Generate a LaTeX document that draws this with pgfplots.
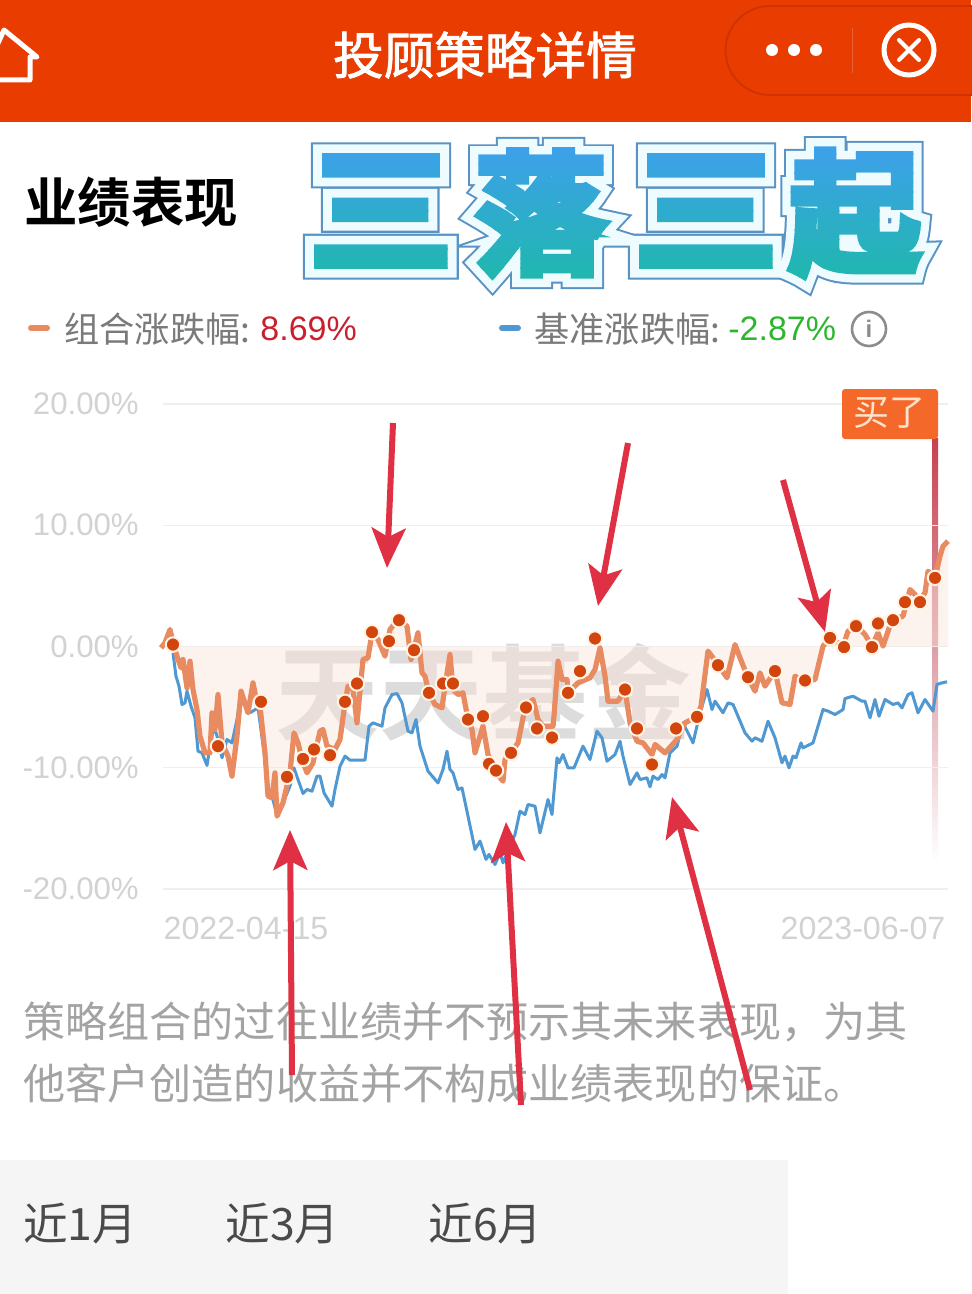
\documentclass[border=0pt]{standalone}
\usepackage{fontspec}
\usepackage{pgfplots}
\usepackage{pgfplotstable}
\pgfplotsset{compat=1.18}
\usetikzlibrary{arrows.meta}
\setmainfont{Liberation Sans}
\newfontfamily\cjk{Noto Sans CJK SC}
\newfontfamily\cjkm[FakeBold=1.6]{Noto Sans CJK SC}
\newfontfamily\cjkb{Noto Sans CJK SC Bold}
\newfontfamily\cjka[FakeBold=21]{Noto Sans CJK SC Bold}
\newfontfamily\cjkc[FakeBold=18]{Noto Sans CJK SC Bold}
\newfontfamily\cjkd[FakeBold=5.5]{Noto Sans CJK SC Bold}
\definecolor{hdr}{HTML}{E93C00}
\definecolor{orangeL}{HTML}{E98B60}
\definecolor{blueL}{HTML}{4F98D2}
\definecolor{dotc}{HTML}{D2450C}
\definecolor{arrowc}{HTML}{E03043}
\definecolor{gradT}{HTML}{3F9FEE}
\definecolor{gradB}{HTML}{1FB8AC}
\definecolor{capb}{HTML}{CF3300}
\definecolor{capl}{HTML}{E8603A}
\definecolor{outl}{HTML}{5A92C4}
\definecolor{halo}{HTML}{EEFBFF}
\definecolor{leg}{HTML}{7A7A7A}
\definecolor{legred}{HTML}{C8202E}
\definecolor{leggreen}{HTML}{2DB52D}
\definecolor{info}{HTML}{8C8C8C}
\definecolor{wm}{HTML}{D4D4D4}
\definecolor{foot}{HTML}{A3A3A3}
\definecolor{tabbg}{HTML}{F5F5F5}
\definecolor{tabt}{HTML}{4A4A4A}
\definecolor{gridc}{HTML}{EFEFEF}
\definecolor{tickc}{HTML}{D2D2D2}
\definecolor{pink}{HTML}{FBE3D8}
\definecolor{dotring}{HTML}{FFF3E6}
\definecolor{buyl}{HTML}{C9404F}
\definecolor{buym}{HTML}{DDA0A8}
\definecolor{buybg}{HTML}{F4682A}
\definecolor{buyt}{HTML}{FCE3CE}

\pgfplotstableread{
x y
161 -0.11
165 0.30
170 1.40
173 0.30
177 -0.80
181 -1.76
183 -1.07
187 -3.41
190 -1.21
193 -3.55
197 -5.20
200 -7.39
205 -8.77
210 -8.77
212 -5.47
215 -6.85
218 -3.96
222 -7.95
228 -9.04
232 -10.69
237 -7.39
241 -3.68
248 -5.47
253 -3.00
257 -4.65
260 -4.92
265 -8.77
268 -12.34
272 -12.48
275 -10.42
277 -13.99
283 -12.89
290 -10.42
294 -7.12
298 -7.95
302 -9.32
307 -10.42
313 -9.59
320 -6.98
323 -6.85
327 -8.22
335 -8.49
340 -7.67
345 -4.65
348 -3.27
353 -3.55
357 -6.30
363 -1.07
368 -0.93
372 1.13
378 0.58
385 -0.80
390 1.40
398 2.23
407 1.68
411 -1.07
418 1.13
422 -2.17
425 -2.45
429 -3.82
435 -4.78
442 -5.06
445 -3.27
450 -0.66
453 -3.55
458 -3.96
463 -3.82
468 -6.02
472 -6.85
475 -8.77
483 -6.57
488 -8.91
495 -10.28
503 -11.11
505 -9.32
511 -8.77
518 -7.95
525 -5.06
533 -4.37
538 -6.02
543 -6.57
553 -6.57
554 -5.75
558 -1.21
562 -2.72
567 -2.72
568 -3.82
578 -3.00
590 -2.58
595 -1.90
600 -0.11
605 -2.45
608 -4.51
618 -4.51
625 -3.55
630 -6.30
637 -7.81
643 -7.95
652 -8.91
655 -8.08
665 -8.77
677 -7.67
685 -6.30
697 -5.75
701 -4.92
708 -0.38
718 -1.48
727 -2.58
735 0.16
740 -0.93
748 -2.58
755 -3.68
760 -2.17
765 -3.27
775 -2.03
782 -4.65
790 -4.78
795 -2.45
805 -2.86
815 -2.72
823 0.03
830 0.71
843 0.03
848 1.26
857 1.68
865 0.99
872 0.03
878 1.13
883 0.03
892 2.23
903 2.50
910 4.70
920 3.88
925 4.43
928 6.21
935 5.66
940 7.45
943 8.27
948 8.69
}\orangedata

\pgfplotstableread{
x y
173 -0.52
176 -2.45
179 -3.27
182 -4.78
185 -4.65
187 -3.68
191 -4.92
195 -5.88
198 -8.63
202 -8.77
207 -9.81
210 -8.22
214 -6.57
218 -7.67
222 -9.18
227 -7.67
232 -7.95
237 -6.02
241 -3.68
250 -5.47
258 -5.06
265 -9.32
268 -12.34
273 -12.62
277 -13.99
283 -12.89
290 -11.52
294 -10.01
298 -10.97
303 -12.12
307 -11.79
312 -11.93
317 -10.69
320 -10.69
324 -12.07
332 -13.17
335 -11.79
340 -9.87
345 -9.04
350 -9.37
365 -9.37
369 -6.57
373 -6.30
382 -6.57
385 -5.06
392 -3.96
397 -3.88
402 -4.65
408 -6.98
412 -7.12
416 -6.02
420 -8.22
428 -10.28
438 -11.25
443 -10.14
447 -8.63
450 -10.14
453 -10.42
458 -11.79
462 -11.66
468 -13.99
475 -16.74
480 -16.05
486 -17.56
489 -17.15
495 -17.98
500 -17.00
503 -17.84
515 -15.50
520 -13.58
525 -13.86
528 -13.03
535 -13.17
540 -15.37
548 -12.62
552 -13.86
557 -9.18
559 -9.59
563 -8.91
568 -10.01
574 -10.01
583 -8.22
590 -9.32
597 -6.98
602 -7.53
607 -9.46
615 -8.91
620 -7.81
623 -9.05
630 -11.38
637 -10.42
640 -10.97
647 -10.83
650 -11.57
653 -10.69
658 -10.97
662 -10.56
665 -10.83
670 -8.77
677 -8.22
683 -6.30
693 -7.95
700 -5.50
707 -3.55
712 -5.20
715 -4.51
723 -5.47
728 -4.65
733 -4.78
738 -5.75
745 -7.12
752 -7.81
755 -7.53
762 -7.81
768 -6.16
775 -7.53
782 -9.59
785 -9.04
789 -10.01
793 -9.04
796 -9.18
801 -7.95
803 -8.36
813 -7.95
823 -5.20
828 -5.33
835 -5.61
843 -5.20
845 -4.29
853 -4.10
862 -4.51
865 -4.51
870 -5.88
875 -4.37
879 -5.75
885 -4.37
893 -4.78
898 -4.65
902 -5.06
908 -3.96
912 -3.82
918 -5.47
925 -4.37
933 -5.33
937 -3.13
942 -3.00
947 -2.91
}\bluedata

\pgfplotstableread{
x y
173 0.16
218 -8.22
261 -4.56
287 -10.75
303 -9.27
314 -8.49
330 -8.96
345 -4.56
357 -3.05
372 1.18
389 0.44
399 2.17
414 -0.30
429 -3.82
443 -3.05
453 -3.05
468 -6.02
483 -5.75
489 -9.68
496 -10.23
511 -8.77
526 -5.03
537 -6.76
552 -7.51
568 -3.82
580 -2.03
595 0.66
625 -3.55
637 -6.76
652 -9.73
676 -6.76
697 -5.80
718 -1.54
748 -2.53
775 -2.03
805 -2.80
830 0.71
844 -0.05
856 1.68
872 -0.05
878 1.90
893 2.17
905 3.66
920 3.66
935 5.66
}\dotdata

\newcommand{\bigchars}[1]{%
  \node[text=#1,inner sep=0,yscale=0.96] at (381,211) {三};
  \node[text=#1,inner sep=0,scale=0.92] at (541,213) {落};
  \node[text=#1,inner sep=0,yscale=0.96] at (706,211) {三};
  \node[text=#1,inner sep=0,scale=0.92] at (855,213) {起};
}

\begin{document}
\begin{tikzpicture}
\begin{scope}[x=0.5pt,y=-0.5pt]
\useasboundingbox (0,0) rectangle (971,1294);
\fill[white] (0,0) rectangle (971,1294);
% header
\fill[hdr] (0,0) rectangle (971,122);
\draw[white,line width=2.5pt,line join=round,line cap=round] (-6,52) -- (4,30) -- (37,57) -- (30,57) -- (30,80) -- (0,80);
\node[white,inner sep=0,font=\cjkm\fontsize{25.3pt}{25.3pt}\selectfont] at (485,55) {投顾策略详情};
\draw[fill=hdr,draw=capb,line width=0.9pt] (1040,6) -- (770,6) arc[start angle=270,end angle=90,radius=44.5] -- (1040,95) -- cycle;
\foreach \xx in {772,794,816} \fill[white] (\xx,50) circle (3pt);
\draw[capl] (852,28) -- (852,73);
\draw[white,line width=2.5pt] (909,50) circle (12.5pt);
\draw[white,line width=2pt,line cap=round] (899,40) -- (919,60) (919,40) -- (899,60);
% heading
\node[anchor=west,inner sep=0,font=\cjkb\fontsize{26.7pt}{26.7pt}\selectfont] at (24,202) {业绩表现};
% big title
\begin{scope}[font=\cjka\fontsize{72pt}{72pt}\selectfont]\bigchars{outl}\end{scope}
\begin{scope}[font=\cjkc\fontsize{72pt}{72pt}\selectfont]\bigchars{halo}\end{scope}
\begin{scope}[font=\cjkd\fontsize{72pt}{72pt}\selectfont]
\foreach \i in {0,...,15} {
  \pgfmathsetmacro{\p}{100-\i*100/15}
  \colorlet{stripc}{gradT!\p!gradB}
  \begin{scope}
    \clip (295,135+\i*9.5) rectangle (950,135+\i*9.5+10);
    \bigchars{stripc}
  \end{scope}
}
\end{scope}
% legend
\draw[orangeL,line width=3pt,line cap=round] (31,328) -- (47,328);
\node[anchor=west,inner sep=0,text=leg,font=\cjk\fontsize{17.6pt}{18pt}\selectfont] at (64,329) {组合涨跌幅:};
\node[anchor=west,inner sep=0,text=legred,font=\fontsize{17pt}{18pt}\selectfont] at (260,329) {8.69\%};
\draw[blueL,line width=3pt,line cap=round] (502,328) -- (518,328);
\node[anchor=west,inner sep=0,text=leg,font=\cjk\fontsize{17.6pt}{18pt}\selectfont] at (534,329) {基准涨跌幅:};
\node[anchor=west,inner sep=0,text=leggreen,font=\fontsize{17pt}{18pt}\selectfont] at (728,329) {-2.87\%};
\draw[info,line width=1.3pt] (869,329) circle (8.5pt);
\node[text=info,inner sep=0,font=\bfseries\fontsize{12pt}{12pt}\selectfont] at (869,329) {i};
% watermark
\node[text=wm,opacity=0.8,inner sep=0,font=\cjkb\fontsize{52pt}{52pt}\selectfont] at (483,692) {天天基金};
% footer text
\node[anchor=west,inner sep=0,text=foot,font=\cjk\fontsize{21.05pt}{21pt}\selectfont] at (23,1022) {策略组合的过往业绩并不预示其未来表现，为其};
\node[anchor=west,inner sep=0,text=foot,font=\cjk\fontsize{21.05pt}{21pt}\selectfont] at (23,1083) {他客户创造的收益并不构成业绩表现的保证。};
% tabs
\fill[tabbg] (0,1160) rectangle (788,1294);
\foreach \xx/\t in {23/近1月,225/近3月,428/近6月}
  \node[anchor=west,inner sep=0,text=tabt,font=\cjk\fontsize{22.3pt}{22pt}\selectfont] at (\xx,1224) {\t};
% buy line
\shade[top color=buyl,bottom color=white,middle color=buym] (932.5,438) rectangle (938,862);
\end{scope}

\begin{axis}[
  at={(81.5pt,-444.5pt)},anchor=south west,
  scale only axis,width=392.5pt,height=242.5pt,
  xmin=163,xmax=948,ymin=-20,ymax=20,
  clip=false,
  axis line style={draw=none},
  major tick length=0pt,
  ymajorgrids,grid style={gridc,line width=0.6pt},
  ytick={-20,-10,0,10,20},
  yticklabels={-20.00\%,-10.00\%,0.00\%,10.00\%,20.00\%},
  xtick={246,863},
  xticklabels={2022-04-15,2023-06-07},
  tick label style={text=tickc},
  yticklabel style={xshift=-8.6pt,font=\fontsize{15.6pt}{16pt}\selectfont},
  xticklabel style={anchor=center,yshift=-19.5pt,font=\fontsize{16.1pt}{16pt}\selectfont},
]
\addplot[draw=none,fill=pink,fill opacity=0.42] table {\orangedata} \closedcycle;
\addplot[blueL,line width=1.5pt,line join=round] table {\bluedata};
\addplot[orangeL,line width=2.6pt,line join=round] table {\orangedata};
\addplot[only marks,mark=*,mark size=3.6pt,mark options={fill=dotc,draw=dotring,line width=1pt}] table {\dotdata};
\end{axis}

\begin{scope}[x=0.5pt,y=-0.5pt]
% buy tag
\fill[buybg,rounded corners=1.5pt] (842,389) rectangle (938,439);
\node[text=buyt,inner sep=0,font=\cjk\fontsize{18pt}{18pt}\selectfont] at (889,413) {买了};
% arrows
\tikzset{ann/.style={arrowc,line width=3pt,-{Stealth[length=20pt,width=17pt,inset=4.5pt]}}}
\draw[ann] (393,423) -- (387,568);
\draw[ann] (628,443) -- (598,606);
\draw[ann] (783,480) -- (825,632);
\draw[ann] (292,1075) -- (290,830);
\draw[ann] (521,1105) -- (506,822);
\draw[ann] (750,1090) -- (672,797);
\end{scope}
\end{tikzpicture}
\end{document}
